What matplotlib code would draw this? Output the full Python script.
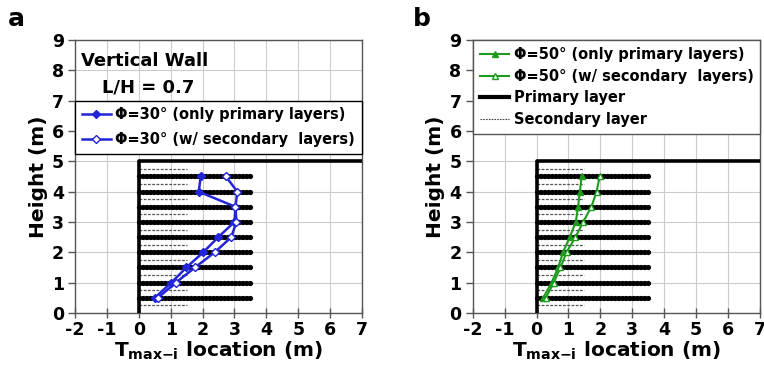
import matplotlib
matplotlib.use("Agg")
import matplotlib.pyplot as plt
from matplotlib.lines import Line2D

plt.rcParams['font.family'] = ['DejaVu Sans']
plt.rcParams['font.weight'] = 'bold'
plt.rcParams['axes.unicode_minus'] = False
plt.rcParams['mathtext.fontset'] = 'custom'
plt.rcParams['mathtext.bf'] = 'DejaVu Sans:bold'
plt.rcParams['mathtext.rm'] = 'DejaVu Sans:bold'

# ---- data ----
layer_heights = [0.5, 1.0, 1.5, 2.0, 2.5, 3.0, 3.5, 4.0, 4.5]
secondary_heights = [0.25, 0.75, 1.25, 1.75, 2.25, 2.75, 3.25, 3.75, 4.25, 4.75]
primary_length = 3.5
secondary_length = 1.5
wall_height = 5.0
x_ticks = [-2, -1, 0, 1, 2, 3, 4, 5, 6, 7]
y_ticks = [0, 1, 2, 3, 4, 5, 6, 7, 8, 9]

phi30_primary = [0.50, 1.02, 1.49, 2.02, 2.49, 3.00, 3.03, 1.88, 1.94]
phi30_secondary = [0.60, 1.16, 1.76, 2.38, 2.90, 3.06, 3.03, 3.09, 2.73]
phi50_primary = [0.21, 0.47, 0.68, 0.83, 1.04, 1.23, 1.30, 1.36, 1.41]
phi50_secondary = [0.29, 0.54, 0.75, 0.94, 1.22, 1.46, 1.72, 1.88, 1.98]

BLUE = '#2424d8'
GREEN = '#1f9a1f'

fig = plt.figure(figsize=(7.64, 3.77), dpi=100)
ax1 = fig.add_axes([0.0982, 0.1698, 0.3757, 0.7241])
ax2 = fig.add_axes([0.6187, 0.1698, 0.3760, 0.7241])


def draw_base(ax):
    ax.set_xlim(-2, 7)
    ax.set_ylim(0, 9)
    ax.set_xticks(x_ticks)
    ax.set_yticks(y_ticks)
    ax.grid(True, color='#cccccc', linewidth=0.8)
    ax.set_axisbelow(True)
    for s in ax.spines.values():
        s.set_color('#555555')
        s.set_linewidth(1.0)
    ax.tick_params(axis='x', labelsize=12.5, length=7, direction='inout',
                   color='#555555', width=1, pad=2)
    ax.tick_params(axis='y', labelsize=12.5, length=5, direction='out',
                   color='#555555', width=1, pad=3)
    for lab in ax.get_xticklabels() + ax.get_yticklabels():
        lab.set_fontweight('bold')
    # layers
    for h in secondary_heights:
        ax.plot([0, secondary_length], [h, h], color='#555555', linewidth=0.9,
                linestyle=(0, (2.2, 1.2)), zorder=2)
    for h in layer_heights:
        ax.plot([0, primary_length], [h, h], color='black', linewidth=3.8,
                linestyle=(0, (0.05, 0.65)), dash_capstyle='round', zorder=2)
    # wall
    ax.plot([0, 0, 7], [0, wall_height, wall_height], color='black', linewidth=2.6,
            solid_capstyle='butt', zorder=3, clip_on=False)
    ax.set_ylabel('Height (m)', fontsize=14.5, fontweight='bold', labelpad=3)
    ax.set_xlabel(r'$\mathbf{T}_{\mathbf{max{-}i}}$ location (m)', fontsize=14.5,
                  fontweight='bold', labelpad=1)


draw_base(ax1)
draw_base(ax2)

# left panel series
ax1.plot(phi30_primary, layer_heights, color=BLUE, linewidth=1.8, marker='D',
         markersize=4, markerfacecolor=BLUE, markeredgecolor=BLUE, zorder=5,
         label='Φ=30° (only primary layers)')
ax1.plot(phi30_secondary, layer_heights, color=BLUE, linewidth=1.8, marker='D',
         markersize=4, markerfacecolor='white', markeredgecolor=BLUE, zorder=5,
         label='Φ=30° (w/ secondary  layers)')
ax1.text(-1.8, 8.32, 'Vertical Wall', fontsize=13, fontweight='bold', va='center', ha='left')
ax1.text(-1.16, 7.44, 'L/H = 0.7', fontsize=13, fontweight='bold', va='center', ha='left')
leg1 = ax1.legend(loc='upper left', bbox_to_anchor=(0, 5.15 / 9, 1, 1.85 / 9), mode='expand',
                  borderaxespad=0, fancybox=False, edgecolor='black', framealpha=1,
                  prop={'size': 10.5, 'weight': 'bold'}, handlelength=2.0,
                  handletextpad=0.3, labelspacing=0.68, borderpad=0.45)
leg1.get_frame().set_linewidth(1.0)

# right panel series
ax2.plot(phi50_primary, layer_heights, color=GREEN, linewidth=1.5, marker='^',
         markersize=5, markerfacecolor=GREEN, markeredgecolor=GREEN, zorder=5)
ax2.plot(phi50_secondary, layer_heights, color=GREEN, linewidth=1.5, marker='^',
         markersize=5, markerfacecolor='white', markeredgecolor=GREEN, zorder=5)
handles2 = [
    Line2D([], [], color=GREEN, linewidth=1.5, marker='^', markersize=5,
           markerfacecolor=GREEN, markeredgecolor=GREEN),
    Line2D([], [], color=GREEN, linewidth=1.5, marker='^', markersize=5,
           markerfacecolor='white', markeredgecolor=GREEN),
    Line2D([], [], color='black', linewidth=3.0),
    Line2D([], [], color='#444444', linewidth=0.8, linestyle=(0, (1.5, 1))),
]
labels2 = ['Φ=50° (only primary layers)', 'Φ=50° (w/ secondary  layers)',
           'Primary layer', 'Secondary layer']
leg2 = ax2.legend(handles2, labels2, loc='upper left', bbox_to_anchor=(0, 0, 1, 1),
                  mode='expand', borderaxespad=0, fancybox=False, edgecolor='#555555',
                  framealpha=1, prop={'size': 10.5, 'weight': 'bold'}, handlelength=2.0,
                  handletextpad=0.3, labelspacing=0.45, borderpad=0.5)
leg2.get_frame().set_linewidth(1.0)

fig.text(0.010, 0.95, 'a', fontsize=18, fontweight='bold', va='center', ha='left')
fig.text(0.540, 0.95, 'b', fontsize=18, fontweight='bold', va='center', ha='left')

fig.savefig('out.png', dpi=100)
